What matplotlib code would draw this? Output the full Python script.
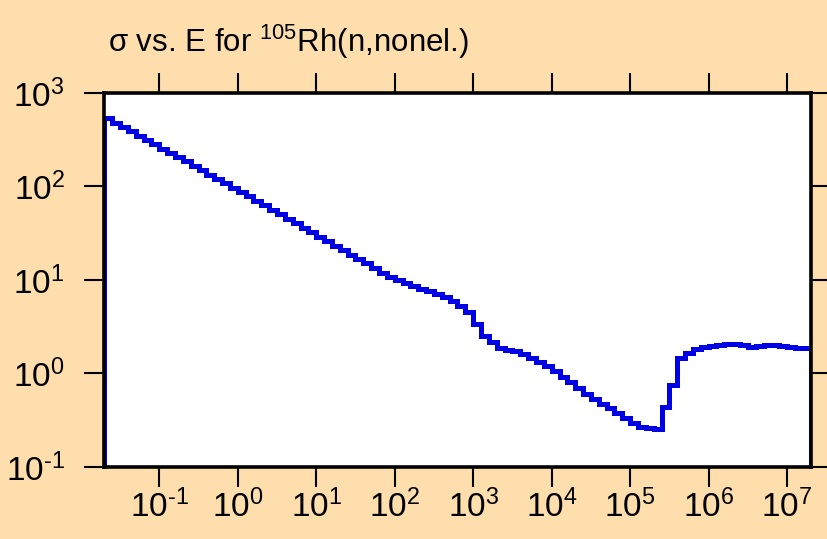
import numpy as np
import matplotlib
matplotlib.use("Agg")
import matplotlib.pyplot as plt
from matplotlib.ticker import FuncFormatter

plt.rcParams['font.family'] = ['Liberation Sans', 'DejaVu Sans']
plt.rcParams['mathtext.fontset'] = 'custom'
plt.rcParams['mathtext.rm'] = 'Liberation Sans'
plt.rcParams['mathtext.it'] = 'Liberation Sans:italic'
plt.rcParams['mathtext.bf'] = 'Liberation Sans:bold'

# group boundaries in eV (0.1 decade groups) and group cross sections in barns
edges = np.logspace(-1.7, 7.3, 91)
sigma = [
    536, 482, 434, 390, 350, 315, 283, 254, 229, 205,
    185, 166, 149, 134, 120, 108, 97.3, 87.5, 78.7, 70.5,
    63.1, 56.5, 50.6, 45.3, 40.6, 36.3, 32.5, 29.1, 26.1, 23.3,
    20.9, 18.7, 16.7, 15.0, 13.4, 12.0, 10.8, 10.0, 9.33, 8.69,
    8.09, 7.57, 7.08, 6.53, 5.96, 5.28, 4.56, 3.38, 2.52, 2.15,
    1.87, 1.80, 1.73, 1.63, 1.48, 1.34, 1.19, 1.05, 0.918, 0.802,
    0.693, 0.601, 0.531, 0.477, 0.429, 0.376, 0.330, 0.295, 0.267, 0.260,
    0.253, 0.44, 0.75, 1.47, 1.66, 1.83, 1.92, 1.98, 2.02, 2.07,
    2.07, 2.02, 1.92, 1.97, 2.00, 2.00, 1.95, 1.90, 1.88, 1.88,
]
xticks = [1e-1, 1e0, 1e1, 1e2, 1e3, 1e4, 1e5, 1e6, 1e7]
yticks = [1e-1, 1e0, 1e1, 1e2, 1e3]
title = r"σ vs. E for $^{105}$Rh(n,nonel.)"


def decade(v, pos):
    # 10^n with a plain hyphen for negative powers
    n = int(round(np.log10(v)))
    return r'$\mathdefault{10^{\text{%d}}}$' % n


bg = '#ffdead'
fig = plt.figure(figsize=(8.27, 5.39), dpi=100, facecolor=bg)
ax = fig.add_axes([0.1262, 0.1336, 0.854, 0.694], facecolor='white')

ax.stairs(sigma, edges, baseline=1e-3, color='#0000e6', linewidth=3.6,
          joinstyle='miter')

ax.set_xscale('log')
ax.set_yscale('log')
ax.set_xlim(edges[0], edges[-1])
ax.set_ylim(0.1, 1000)
ax.set_xticks(xticks)
ax.set_yticks(yticks)
ax.minorticks_off()
ax.xaxis.set_major_formatter(FuncFormatter(decade))
ax.yaxis.set_major_formatter(FuncFormatter(decade))

for s in ax.spines.values():
    s.set_linewidth(2.6)
    s.set_color('black')

ax.tick_params(which='major', direction='out', length=14.5, width=1.5,
               labelsize=24, top=True, right=True,
               labeltop=False, labelright=False)
ax.tick_params(axis='x', pad=2)
ax.tick_params(axis='y', pad=14)

fig.text(108 / 827, 1 - 52 / 539, title, fontsize=22.5, va='baseline', ha='left')

fig.savefig('out.png', dpi=100, facecolor=bg)
